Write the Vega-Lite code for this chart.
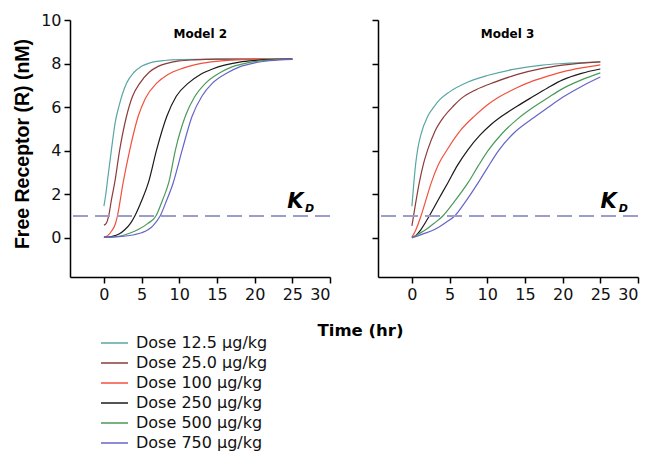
{
"$schema": "https://vega.github.io/schema/vega-lite/v6.json",
"padding": {"left": 11, "top": 12, "right": 5, "bottom": 5},
"bounds": "flush",
"spacing": 48,
"datasets": {
"one": [{"k": 1}],
"curves": [
{"m":"Model 2","d":"Dose 12.5 µg/kg","t":0,"r":1.45},{"m":"Model 2","d":"Dose 12.5 µg/kg","t":0.25,"r":2.0},{"m":"Model 2","d":"Dose 12.5 µg/kg","t":0.5,"r":2.7},{"m":"Model 2","d":"Dose 12.5 µg/kg","t":1,"r":4.05},{"m":"Model 2","d":"Dose 12.5 µg/kg","t":1.5,"r":5.3},{"m":"Model 2","d":"Dose 12.5 µg/kg","t":2,"r":6.05},{"m":"Model 2","d":"Dose 12.5 µg/kg","t":2.5,"r":6.65},{"m":"Model 2","d":"Dose 12.5 µg/kg","t":3,"r":7.1},{"m":"Model 2","d":"Dose 12.5 µg/kg","t":4,"r":7.6},{"m":"Model 2","d":"Dose 12.5 µg/kg","t":5,"r":7.88},{"m":"Model 2","d":"Dose 12.5 µg/kg","t":6,"r":8.02},{"m":"Model 2","d":"Dose 12.5 µg/kg","t":7,"r":8.1},{"m":"Model 2","d":"Dose 12.5 µg/kg","t":8,"r":8.14},{"m":"Model 2","d":"Dose 12.5 µg/kg","t":10,"r":8.18},{"m":"Model 2","d":"Dose 12.5 µg/kg","t":15,"r":8.2},{"m":"Model 2","d":"Dose 12.5 µg/kg","t":25,"r":8.2},
{"m":"Model 2","d":"Dose 25.0 µg/kg","t":0,"r":0.58},{"m":"Model 2","d":"Dose 25.0 µg/kg","t":0.3,"r":0.66},{"m":"Model 2","d":"Dose 25.0 µg/kg","t":0.63,"r":1.0},{"m":"Model 2","d":"Dose 25.0 µg/kg","t":1,"r":1.75},{"m":"Model 2","d":"Dose 25.0 µg/kg","t":1.43,"r":2.53},{"m":"Model 2","d":"Dose 25.0 µg/kg","t":2.1,"r":4.05},{"m":"Model 2","d":"Dose 25.0 µg/kg","t":3,"r":5.58},{"m":"Model 2","d":"Dose 25.0 µg/kg","t":3.8,"r":6.5},{"m":"Model 2","d":"Dose 25.0 µg/kg","t":4.78,"r":7.1},{"m":"Model 2","d":"Dose 25.0 µg/kg","t":6,"r":7.6},{"m":"Model 2","d":"Dose 25.0 µg/kg","t":7.2,"r":7.87},{"m":"Model 2","d":"Dose 25.0 µg/kg","t":8.5,"r":8.02},{"m":"Model 2","d":"Dose 25.0 µg/kg","t":10,"r":8.12},{"m":"Model 2","d":"Dose 25.0 µg/kg","t":12,"r":8.17},{"m":"Model 2","d":"Dose 25.0 µg/kg","t":15,"r":8.2},{"m":"Model 2","d":"Dose 25.0 µg/kg","t":25,"r":8.2},
{"m":"Model 2","d":"Dose 100 µg/kg","t":0,"r":0.03},{"m":"Model 2","d":"Dose 100 µg/kg","t":0.5,"r":0.1},{"m":"Model 2","d":"Dose 100 µg/kg","t":1,"r":0.3},{"m":"Model 2","d":"Dose 100 µg/kg","t":1.5,"r":0.62},{"m":"Model 2","d":"Dose 100 µg/kg","t":1.79,"r":1.0},{"m":"Model 2","d":"Dose 100 µg/kg","t":2.55,"r":2.53},{"m":"Model 2","d":"Dose 100 µg/kg","t":3.44,"r":4.05},{"m":"Model 2","d":"Dose 100 µg/kg","t":4.55,"r":5.58},{"m":"Model 2","d":"Dose 100 µg/kg","t":5.5,"r":6.4},{"m":"Model 2","d":"Dose 100 µg/kg","t":7,"r":7.1},{"m":"Model 2","d":"Dose 100 µg/kg","t":8.5,"r":7.5},{"m":"Model 2","d":"Dose 100 µg/kg","t":10.4,"r":7.78},{"m":"Model 2","d":"Dose 100 µg/kg","t":12,"r":7.94},{"m":"Model 2","d":"Dose 100 µg/kg","t":14,"r":8.07},{"m":"Model 2","d":"Dose 100 µg/kg","t":17,"r":8.16},{"m":"Model 2","d":"Dose 100 µg/kg","t":20,"r":8.19},{"m":"Model 2","d":"Dose 100 µg/kg","t":25,"r":8.2},
{"m":"Model 2","d":"Dose 250 µg/kg","t":0,"r":0.02},{"m":"Model 2","d":"Dose 250 µg/kg","t":1,"r":0.06},{"m":"Model 2","d":"Dose 250 µg/kg","t":2,"r":0.17},{"m":"Model 2","d":"Dose 250 µg/kg","t":2.8,"r":0.38},{"m":"Model 2","d":"Dose 250 µg/kg","t":3.5,"r":0.65},{"m":"Model 2","d":"Dose 250 µg/kg","t":4.1,"r":1.0},{"m":"Model 2","d":"Dose 250 µg/kg","t":5,"r":1.7},{"m":"Model 2","d":"Dose 250 µg/kg","t":5.9,"r":2.53},{"m":"Model 2","d":"Dose 250 µg/kg","t":7,"r":4.05},{"m":"Model 2","d":"Dose 250 µg/kg","t":8.35,"r":5.58},{"m":"Model 2","d":"Dose 250 µg/kg","t":9.6,"r":6.5},{"m":"Model 2","d":"Dose 250 µg/kg","t":11.2,"r":7.1},{"m":"Model 2","d":"Dose 250 µg/kg","t":12.8,"r":7.5},{"m":"Model 2","d":"Dose 250 µg/kg","t":14.4,"r":7.75},{"m":"Model 2","d":"Dose 250 µg/kg","t":16,"r":7.93},{"m":"Model 2","d":"Dose 250 µg/kg","t":18,"r":8.07},{"m":"Model 2","d":"Dose 250 µg/kg","t":20,"r":8.14},{"m":"Model 2","d":"Dose 250 µg/kg","t":22,"r":8.18},{"m":"Model 2","d":"Dose 250 µg/kg","t":25,"r":8.2},
{"m":"Model 2","d":"Dose 500 µg/kg","t":0,"r":0.02},{"m":"Model 2","d":"Dose 500 µg/kg","t":2,"r":0.07},{"m":"Model 2","d":"Dose 500 µg/kg","t":3.5,"r":0.22},{"m":"Model 2","d":"Dose 500 µg/kg","t":4.55,"r":0.38},{"m":"Model 2","d":"Dose 500 µg/kg","t":5.8,"r":0.65},{"m":"Model 2","d":"Dose 500 µg/kg","t":6.9,"r":1.0},{"m":"Model 2","d":"Dose 500 µg/kg","t":7.8,"r":1.75},{"m":"Model 2","d":"Dose 500 µg/kg","t":8.6,"r":2.53},{"m":"Model 2","d":"Dose 500 µg/kg","t":9.5,"r":4.05},{"m":"Model 2","d":"Dose 500 µg/kg","t":10.8,"r":5.58},{"m":"Model 2","d":"Dose 500 µg/kg","t":12,"r":6.45},{"m":"Model 2","d":"Dose 500 µg/kg","t":13.5,"r":7.1},{"m":"Model 2","d":"Dose 500 µg/kg","t":15.5,"r":7.6},{"m":"Model 2","d":"Dose 500 µg/kg","t":17,"r":7.85},{"m":"Model 2","d":"Dose 500 µg/kg","t":19,"r":8.03},{"m":"Model 2","d":"Dose 500 µg/kg","t":21,"r":8.13},{"m":"Model 2","d":"Dose 500 µg/kg","t":23,"r":8.18},{"m":"Model 2","d":"Dose 500 µg/kg","t":25,"r":8.2},
{"m":"Model 2","d":"Dose 750 µg/kg","t":0,"r":0.02},{"m":"Model 2","d":"Dose 750 µg/kg","t":2,"r":0.05},{"m":"Model 2","d":"Dose 750 µg/kg","t":4,"r":0.14},{"m":"Model 2","d":"Dose 750 µg/kg","t":5,"r":0.23},{"m":"Model 2","d":"Dose 750 µg/kg","t":6.5,"r":0.55},{"m":"Model 2","d":"Dose 750 µg/kg","t":7.46,"r":1.0},{"m":"Model 2","d":"Dose 750 µg/kg","t":8.3,"r":1.7},{"m":"Model 2","d":"Dose 750 µg/kg","t":9.2,"r":2.53},{"m":"Model 2","d":"Dose 750 µg/kg","t":10.4,"r":4.05},{"m":"Model 2","d":"Dose 750 µg/kg","t":11.7,"r":5.58},{"m":"Model 2","d":"Dose 750 µg/kg","t":13,"r":6.5},{"m":"Model 2","d":"Dose 750 µg/kg","t":14.4,"r":7.1},{"m":"Model 2","d":"Dose 750 µg/kg","t":16.4,"r":7.58},{"m":"Model 2","d":"Dose 750 µg/kg","t":18,"r":7.85},{"m":"Model 2","d":"Dose 750 µg/kg","t":20,"r":8.03},{"m":"Model 2","d":"Dose 750 µg/kg","t":22,"r":8.13},{"m":"Model 2","d":"Dose 750 µg/kg","t":25,"r":8.19},
{"m":"Model 3","d":"Dose 12.5 µg/kg","t":0,"r":1.45},{"m":"Model 3","d":"Dose 12.5 µg/kg","t":0.25,"r":2.5},{"m":"Model 3","d":"Dose 12.5 µg/kg","t":0.5,"r":3.4},{"m":"Model 3","d":"Dose 12.5 µg/kg","t":0.76,"r":4.05},{"m":"Model 3","d":"Dose 12.5 µg/kg","t":1.2,"r":4.75},{"m":"Model 3","d":"Dose 12.5 µg/kg","t":2.1,"r":5.58},{"m":"Model 3","d":"Dose 12.5 µg/kg","t":3,"r":6.05},{"m":"Model 3","d":"Dose 12.5 µg/kg","t":3.66,"r":6.33},{"m":"Model 3","d":"Dose 12.5 µg/kg","t":5,"r":6.7},{"m":"Model 3","d":"Dose 12.5 µg/kg","t":7.45,"r":7.15},{"m":"Model 3","d":"Dose 12.5 µg/kg","t":10,"r":7.45},{"m":"Model 3","d":"Dose 12.5 µg/kg","t":13.25,"r":7.72},{"m":"Model 3","d":"Dose 12.5 µg/kg","t":17.3,"r":7.93},{"m":"Model 3","d":"Dose 12.5 µg/kg","t":20,"r":8.0},{"m":"Model 3","d":"Dose 12.5 µg/kg","t":25,"r":8.08},
{"m":"Model 3","d":"Dose 25.0 µg/kg","t":0,"r":0.55},{"m":"Model 3","d":"Dose 25.0 µg/kg","t":0.5,"r":1.6},{"m":"Model 3","d":"Dose 25.0 µg/kg","t":0.98,"r":2.53},{"m":"Model 3","d":"Dose 25.0 µg/kg","t":1.5,"r":3.35},{"m":"Model 3","d":"Dose 25.0 µg/kg","t":2.1,"r":4.05},{"m":"Model 3","d":"Dose 25.0 µg/kg","t":3,"r":4.85},{"m":"Model 3","d":"Dose 25.0 µg/kg","t":4.3,"r":5.58},{"m":"Model 3","d":"Dose 25.0 µg/kg","t":5.5,"r":6.05},{"m":"Model 3","d":"Dose 25.0 µg/kg","t":6.56,"r":6.4},{"m":"Model 3","d":"Dose 25.0 µg/kg","t":8.5,"r":6.8},{"m":"Model 3","d":"Dose 25.0 µg/kg","t":11,"r":7.15},{"m":"Model 3","d":"Dose 25.0 µg/kg","t":14,"r":7.5},{"m":"Model 3","d":"Dose 25.0 µg/kg","t":17.3,"r":7.78},{"m":"Model 3","d":"Dose 25.0 µg/kg","t":20,"r":7.93},{"m":"Model 3","d":"Dose 25.0 µg/kg","t":25,"r":8.08},
{"m":"Model 3","d":"Dose 100 µg/kg","t":0,"r":0.03},{"m":"Model 3","d":"Dose 100 µg/kg","t":0.5,"r":0.35},{"m":"Model 3","d":"Dose 100 µg/kg","t":1.2,"r":1.0},{"m":"Model 3","d":"Dose 100 µg/kg","t":2,"r":1.9},{"m":"Model 3","d":"Dose 100 µg/kg","t":2.54,"r":2.5},{"m":"Model 3","d":"Dose 100 µg/kg","t":3.5,"r":3.35},{"m":"Model 3","d":"Dose 100 µg/kg","t":4.78,"r":4.1},{"m":"Model 3","d":"Dose 100 µg/kg","t":6.5,"r":4.95},{"m":"Model 3","d":"Dose 100 µg/kg","t":8.34,"r":5.6},{"m":"Model 3","d":"Dose 100 µg/kg","t":10,"r":6.1},{"m":"Model 3","d":"Dose 100 µg/kg","t":11.5,"r":6.45},{"m":"Model 3","d":"Dose 100 µg/kg","t":14,"r":6.9},{"m":"Model 3","d":"Dose 100 µg/kg","t":15.9,"r":7.18},{"m":"Model 3","d":"Dose 100 µg/kg","t":18,"r":7.42},{"m":"Model 3","d":"Dose 100 µg/kg","t":20,"r":7.62},{"m":"Model 3","d":"Dose 100 µg/kg","t":22.5,"r":7.8},{"m":"Model 3","d":"Dose 100 µg/kg","t":25,"r":7.94},
{"m":"Model 3","d":"Dose 250 µg/kg","t":0,"r":0.0},{"m":"Model 3","d":"Dose 250 µg/kg","t":0.5,"r":0.1},{"m":"Model 3","d":"Dose 250 µg/kg","t":1.2,"r":0.38},{"m":"Model 3","d":"Dose 250 µg/kg","t":2.3,"r":1.0},{"m":"Model 3","d":"Dose 250 µg/kg","t":3.5,"r":1.75},{"m":"Model 3","d":"Dose 250 µg/kg","t":4.78,"r":2.53},{"m":"Model 3","d":"Dose 250 µg/kg","t":6,"r":3.3},{"m":"Model 3","d":"Dose 250 µg/kg","t":7.45,"r":4.05},{"m":"Model 3","d":"Dose 250 µg/kg","t":9,"r":4.7},{"m":"Model 3","d":"Dose 250 µg/kg","t":10.5,"r":5.2},{"m":"Model 3","d":"Dose 250 µg/kg","t":12,"r":5.6},{"m":"Model 3","d":"Dose 250 µg/kg","t":14,"r":6.05},{"m":"Model 3","d":"Dose 250 µg/kg","t":15.9,"r":6.45},{"m":"Model 3","d":"Dose 250 µg/kg","t":18,"r":6.88},{"m":"Model 3","d":"Dose 250 µg/kg","t":20,"r":7.25},{"m":"Model 3","d":"Dose 250 µg/kg","t":22.5,"r":7.55},{"m":"Model 3","d":"Dose 250 µg/kg","t":25,"r":7.75},
{"m":"Model 3","d":"Dose 500 µg/kg","t":0,"r":0.0},{"m":"Model 3","d":"Dose 500 µg/kg","t":1,"r":0.2},{"m":"Model 3","d":"Dose 500 µg/kg","t":1.87,"r":0.38},{"m":"Model 3","d":"Dose 500 µg/kg","t":3,"r":0.68},{"m":"Model 3","d":"Dose 500 µg/kg","t":4.1,"r":1.0},{"m":"Model 3","d":"Dose 500 µg/kg","t":5.5,"r":1.6},{"m":"Model 3","d":"Dose 500 µg/kg","t":7.45,"r":2.53},{"m":"Model 3","d":"Dose 500 µg/kg","t":8.8,"r":3.3},{"m":"Model 3","d":"Dose 500 µg/kg","t":10.1,"r":4.0},{"m":"Model 3","d":"Dose 500 µg/kg","t":12,"r":4.8},{"m":"Model 3","d":"Dose 500 µg/kg","t":14,"r":5.45},{"m":"Model 3","d":"Dose 500 µg/kg","t":16,"r":5.97},{"m":"Model 3","d":"Dose 500 µg/kg","t":18,"r":6.42},{"m":"Model 3","d":"Dose 500 µg/kg","t":20,"r":6.85},{"m":"Model 3","d":"Dose 500 µg/kg","t":22.5,"r":7.25},{"m":"Model 3","d":"Dose 500 µg/kg","t":25,"r":7.57},
{"m":"Model 3","d":"Dose 750 µg/kg","t":0,"r":0.0},{"m":"Model 3","d":"Dose 750 µg/kg","t":1.5,"r":0.18},{"m":"Model 3","d":"Dose 750 µg/kg","t":3,"r":0.38},{"m":"Model 3","d":"Dose 750 µg/kg","t":4.5,"r":0.7},{"m":"Model 3","d":"Dose 750 µg/kg","t":5.67,"r":1.0},{"m":"Model 3","d":"Dose 750 µg/kg","t":7,"r":1.6},{"m":"Model 3","d":"Dose 750 µg/kg","t":8.8,"r":2.53},{"m":"Model 3","d":"Dose 750 µg/kg","t":10,"r":3.2},{"m":"Model 3","d":"Dose 750 µg/kg","t":11.5,"r":4.0},{"m":"Model 3","d":"Dose 750 µg/kg","t":13.5,"r":4.8},{"m":"Model 3","d":"Dose 750 µg/kg","t":15.9,"r":5.45},{"m":"Model 3","d":"Dose 750 µg/kg","t":18,"r":5.97},{"m":"Model 3","d":"Dose 750 µg/kg","t":20,"r":6.45},{"m":"Model 3","d":"Dose 750 µg/kg","t":22.5,"r":6.95},{"m":"Model 3","d":"Dose 750 µg/kg","t":25,"r":7.38}
]
},
"config": {
"view": {"stroke": null},
"font": "DejaVu Sans",
"axis": {"grid": false, "domainColor": "#000", "domainWidth": 1.5, "tickColor": "#000", "tickWidth": 1.5, "tickSize": 6, "labelFont": "DejaVu Sans", "labelFontSize": 16, "labelColor": "#111", "labelPadding": 3},
"legend": {"orient": "none", "legendX": 30, "legendY": 313, "direction": "vertical", "title": null, "labelFont": "DejaVu Sans", "labelFontSize": 16, "labelColor": "#111", "symbolType": "stroke", "symbolSize": 729, "symbolStrokeWidth": 1.5, "labelOffset": 7, "rowPadding": 0, "clipHeight": 20}
},
"hconcat": [
{
"width": 260, "height": 257,
"layer": [
{"data": {"name": "curves"}, "transform": [{"filter": "datum.m === 'Model 2'"}],
 "mark": {"type": "line", "strokeWidth": 1.2, "interpolate": "monotone"},
 "encoding": {
  "x": {"field": "t", "type": "quantitative", "scale": {"domain": [-4.5, 30], "nice": false, "zero": false}, "axis": {"values": [0,5,10,15,20,25,30], "title": null}},
  "y": {"field": "r", "type": "quantitative", "scale": {"domain": [-1.8, 10], "nice": false, "zero": false}, "axis": {"values": [0,2,4,6,8,10], "title": "Free Receptor (R) (nM)", "titleFont": "Liberation Sans", "titleFontWeight": "bold", "titleFontSize": 19.5, "titleColor": "#000", "titleX": -42, "titleY": 123.5, "titleAlign": "center", "titleBaseline": "alphabetic"}},
  "color": {"field": "d", "type": "nominal", "sort": null, "scale": {"domain": ["Dose 12.5 µg/kg","Dose 25.0 µg/kg","Dose 100 µg/kg","Dose 250 µg/kg","Dose 500 µg/kg","Dose 750 µg/kg"], "range": ["#5aa6a2","#8c3b3b","#f2503e","#1a1a1a","#4a9a58","#6464c8"]}},
  "order": {"field": "t", "type": "quantitative"}
 }},
{"data": {"name": "one"}, "mark": {"type": "rule", "strokeDash": [15, 7], "color": "#9d9dcb", "strokeWidth": 2}, "encoding": {"y": {"datum": 1}}},
{"data": {"name": "one"}, "mark": {"type": "text", "text": "K", "font": "DejaVu Sans", "fontWeight": "bold", "fontStyle": "italic", "fontSize": 21, "align": "center", "baseline": "alphabetic", "color": "#000"}, "encoding": {"x": {"datum": 25.4}, "y": {"datum": 1.37}}},
{"data": {"name": "one"}, "mark": {"type": "text", "text": "D", "font": "DejaVu Sans", "fontWeight": "bold", "fontStyle": "italic", "fontSize": 11, "align": "center", "baseline": "alphabetic", "color": "#000"}, "encoding": {"x": {"datum": 27.3}, "y": {"datum": 1.18}}},
{"data": {"name": "one"}, "mark": {"type": "text", "text": "Model 2", "font": "DejaVu Sans", "fontWeight": "bold", "fontSize": 12, "align": "center", "baseline": "alphabetic", "color": "#000"}, "encoding": {"x": {"datum": 12.8}, "y": {"datum": 9.16}}}
]
},
{
"width": 260, "height": 257,
"layer": [
{"data": {"name": "curves"}, "transform": [{"filter": "datum.m === 'Model 3'"}],
 "mark": {"type": "line", "strokeWidth": 1.2, "interpolate": "monotone"},
 "encoding": {
  "x": {"field": "t", "type": "quantitative", "scale": {"domain": [-4.5, 30], "nice": false, "zero": false}, "axis": {"values": [0,5,10,15,20,25,30], "title": "Time (hr)", "titleFont": "DejaVu Sans", "titleFontWeight": "bold", "titleFontSize": 16.5, "titleColor": "#000", "titleX": -18, "titleY": 58, "titleAlign": "center", "titleBaseline": "alphabetic"}},
  "y": {"field": "r", "type": "quantitative", "scale": {"domain": [-1.8, 10], "nice": false, "zero": false}, "axis": {"values": [0,2,4,6,8,10], "title": null, "labels": false}},
  "color": {"field": "d", "type": "nominal", "sort": null, "scale": {"domain": ["Dose 12.5 µg/kg","Dose 25.0 µg/kg","Dose 100 µg/kg","Dose 250 µg/kg","Dose 500 µg/kg","Dose 750 µg/kg"], "range": ["#5aa6a2","#8c3b3b","#f2503e","#1a1a1a","#4a9a58","#6464c8"]}},
  "order": {"field": "t", "type": "quantitative"}
 }},
{"data": {"name": "one"}, "mark": {"type": "rule", "strokeDash": [15, 7], "color": "#9d9dcb", "strokeWidth": 2}, "encoding": {"y": {"datum": 1}}},
{"data": {"name": "one"}, "mark": {"type": "text", "text": "K", "font": "DejaVu Sans", "fontWeight": "bold", "fontStyle": "italic", "fontSize": 21, "align": "center", "baseline": "alphabetic", "color": "#000"}, "encoding": {"x": {"datum": 26.1}, "y": {"datum": 1.37}}},
{"data": {"name": "one"}, "mark": {"type": "text", "text": "D", "font": "DejaVu Sans", "fontWeight": "bold", "fontStyle": "italic", "fontSize": 11, "align": "center", "baseline": "alphabetic", "color": "#000"}, "encoding": {"x": {"datum": 28.05}, "y": {"datum": 1.18}}},
{"data": {"name": "one"}, "mark": {"type": "text", "text": "Model 3", "font": "DejaVu Sans", "fontWeight": "bold", "fontSize": 12, "align": "center", "baseline": "alphabetic", "color": "#000"}, "encoding": {"x": {"datum": 12.7}, "y": {"datum": 9.16}}}
]
}
],
"resolve": {"scale": {"color": "shared"}}
}
